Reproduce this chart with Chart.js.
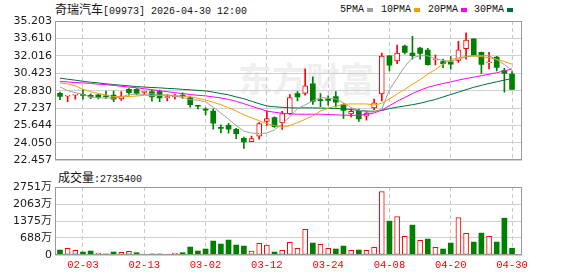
<!DOCTYPE html>
<html><head><meta charset="utf-8">
<script src="https://cdn.jsdelivr.net/npm/chart.js@4"></script>
<style>
html,body{margin:0;padding:0;background:#fff;width:578px;height:276px;overflow:hidden;}
#wrap{position:relative;width:578px;height:276px;}
canvas{position:absolute;left:0;}
.t{position:absolute;white-space:nowrap;line-height:16px;color:#111;}
.mono{font-family:"Liberation Mono","DejaVu Sans Mono",monospace;font-size:10px;}
.cjk{font-family:"Noto Sans CJK SC",sans-serif;font-size:12px;}
.sq{position:absolute;width:6px;height:4px;}
#wm{font-family:"Noto Sans CJK SC",sans-serif;font-weight:700;font-size:34px;color:#efefef;left:238px;top:58px;line-height:40px;}
</style></head>
<body><div id="wrap">
<div id="wm" class="t" style="color:#efefef">东方财富</div>
<div class="t" style="left:55px;top:1px;"><span class="cjk">奇瑞汽车</span><span class="mono">[09973] 2026-04-30 12:00</span></div>
<div class="t mono" style="left:340px;top:2px;">5PMA</div><div class="sq" style="left:367px;top:8px;background:#a0a0a0"></div>
<div class="t mono" style="left:381px;top:2px;">10PMA</div><div class="sq" style="left:414px;top:8px;background:#f5a000"></div>
<div class="t mono" style="left:428px;top:2px;">20PMA</div><div class="sq" style="left:461px;top:8px;background:#ff00ff"></div>
<div class="t mono" style="left:474px;top:2px;">30PMA</div><div class="sq" style="left:507px;top:8px;background:#006d3c"></div>
<div class="t" style="left:58px;top:169px;"><span class="cjk">成交量</span><span class="mono">:2735400</span></div>
<canvas id="k" width="578" height="170" style="top:0"></canvas>
<canvas id="v" width="578" height="106" style="top:170px"></canvas>
</div>
<script>
const dates=['01-29','01-30','02-02','02-03','02-04','02-05','02-06','02-09','02-10','02-11','02-12','02-13','02-16','02-20','02-23','02-24','02-25','02-26','02-27','03-02','03-03','03-04','03-05','03-06','03-09','03-10','03-11','03-12','03-13','03-16','03-17','03-18','03-19','03-20','03-23','03-24','03-25','03-26','03-27','03-30','03-31','04-01','04-02','04-08','04-09','04-10','04-13','04-14','04-15','04-16','04-17','04-20','04-21','04-22','04-23','04-24','04-27','04-28','04-29','04-30'];
const openP=[28.59,28.34,28.42,28.50,28.41,28.46,28.34,28.43,28.07,28.95,28.95,28.68,28.74,28.74,28.19,28.28,28.40,28.21,27.46,27.12,26.97,25.44,25.66,25.29,24.47,24.17,24.67,26.02,26.37,25.88,26.73,28.56,28.58,29.45,27.99,28.08,28.30,27.57,26.71,26.97,26.50,27.26,28.54,32.02,31.55,32.90,32.28,32.73,32.55,31.64,31.49,31.46,31.60,32.68,33.58,32.34,31.37,31.90,30.69,30.34];
const highP=[28.71,28.38,28.47,28.95,28.54,28.50,28.80,28.80,28.74,29.03,29.03,28.79,28.89,28.89,28.48,28.50,28.63,28.30,27.48,27.26,27.18,25.71,25.85,25.40,24.58,24.67,25.91,26.99,26.44,26.94,28.48,28.74,30.84,30.09,28.56,28.36,28.74,27.62,27.18,27.15,26.97,28.06,32.28,32.04,32.99,32.99,33.81,32.79,32.70,32.08,31.71,31.96,33.35,34.11,33.58,32.37,32.34,31.97,30.87,30.57];
const lowP=[28.01,27.83,28.06,28.06,28.09,28.08,28.12,27.83,27.95,28.41,28.45,28.48,27.88,27.83,27.90,28.06,28.12,27.33,27.17,26.62,25.32,24.96,24.94,24.45,23.56,24.17,24.40,25.65,25.47,25.29,26.66,27.90,28.43,27.57,27.37,27.50,27.33,26.29,26.44,26.02,26.13,27.10,27.90,30.63,31.31,32.19,31.71,31.71,31.16,31.19,30.93,30.80,31.42,31.72,32.02,30.38,30.82,30.63,28.70,28.95];
const closeP=[28.30,28.38,28.45,28.40,28.25,28.21,28.28,28.05,28.34,28.65,28.59,28.72,28.27,28.18,28.22,28.31,28.33,27.55,27.41,27.06,25.85,25.38,25.32,24.89,24.14,24.45,25.82,26.27,25.54,26.73,28.21,28.25,29.27,27.86,27.92,27.95,27.77,27.02,26.95,26.26,26.79,27.73,31.99,31.16,32.28,32.34,32.04,32.24,31.22,31.69,31.31,31.25,32.57,33.46,32.08,31.24,31.46,30.95,30.40,28.95];
const ma5=[29.18,28.83,28.65,28.50,28.26,28.18,28.17,28.15,28.26,28.48,28.52,28.50,28.55,28.43,28.45,28.32,28.21,28.01,27.97,27.81,27.33,26.79,26.22,25.64,25.13,24.96,24.89,24.96,25.25,25.78,26.44,27.19,27.53,27.92,28.21,28.15,28.08,27.72,27.28,27.06,26.88,26.88,27.15,28.92,29.98,31.04,31.84,32.02,32.02,31.75,31.60,31.51,31.71,31.93,32.04,32.04,32.02,31.66,31.22,30.69];
const ma10=[29.54,29.45,29.27,28.96,28.74,28.58,28.43,28.30,28.27,28.30,28.34,28.41,28.37,28.39,28.43,28.39,28.32,28.26,28.14,27.99,27.77,27.55,27.28,26.97,26.62,26.35,26.09,25.82,25.64,25.49,25.64,25.91,26.22,26.53,26.97,27.24,27.41,27.59,27.62,27.62,27.62,27.52,27.68,28.08,28.52,28.96,29.41,29.85,30.34,30.78,31.26,31.66,31.84,31.95,31.99,31.95,31.84,31.69,31.49,31.26];
const ma20=[29.67,29.63,29.58,29.54,29.49,29.43,29.38,29.31,29.23,29.16,29.10,29.01,28.92,28.83,28.74,28.65,28.57,28.48,28.41,28.36,28.26,28.17,28.03,27.86,27.64,27.41,27.19,26.97,26.86,26.77,26.71,26.68,26.68,26.68,26.68,26.66,26.62,26.59,26.57,26.59,26.66,26.79,27.06,27.46,27.86,28.21,28.57,28.87,29.14,29.32,29.49,29.63,29.80,29.94,30.07,30.20,30.34,30.47,30.64,30.82];
const ma30=[29.98,29.88,29.79,29.69,29.61,29.54,29.46,29.39,29.33,29.27,29.21,29.16,29.12,29.09,29.04,29.01,28.95,28.91,28.86,28.81,28.70,28.57,28.45,28.26,28.10,27.86,27.64,27.43,27.36,27.31,27.26,27.26,27.26,27.26,27.24,27.22,27.20,27.18,27.10,27.03,26.97,26.95,27.02,27.19,27.33,27.43,27.55,27.68,27.86,28.03,28.26,28.48,28.70,28.92,29.14,29.32,29.49,29.64,29.80,29.94];
const volume=[201,270,188,121,161,81,40,121,107,148,94,40,40,40,40,81,94,322,161,242,564,443,604,403,362,161,470,403,121,188,510,270,1034,483,430,270,242,362,188,201,188,309,2565,1370,1558,752,1208,591,645,309,242,483,1518,873,523,886,752,523,1490,273.54];
const volDir=['g','r','r','g','g','r','g','g','r','r','g','r','g','g','r','r','g','g','g','g','g','g','g','g','g','r','r','r','g','r','r','r','r','g','r','r','g','g','r','g','r','r','r','g','r','r','g','r','g','r','g','g','r','r','g','g','r','g','g','g'];
const priceTicks=['35.203','33.610','32.016','30.423','28.830','27.237','25.644','24.050','22.457'];
const volTicks=[0,688,1375,2063,2751];
const volTickLabels=['0','688万','1375万','2063万','2751万'];
const dateTickIdx=[3,11,19,27,35,43,51,59];

const RED='#ff0000', GREEN='#008000';
const XMIN=-0.65, XMAX=60.3;
const frame={id:'frame',afterDraw(c){const a=c.chartArea,x=c.ctx;x.save();x.strokeStyle='#999999';x.lineWidth=1;
  x.strokeRect(Math.round(a.left)+0.5,Math.round(a.top)+0.5,Math.round(a.right-a.left)-1,Math.round(a.bottom-a.top)-1);x.restore();}};

const up=[],dn=[];
for(let i=0;i<dates.length;i++){(closeP[i]>=openP[i]?up:dn).push(i);}
const pt=(arr)=>arr.map((v,i)=>({x:i,y:v}));
const lineDs=(d,c)=>({type:'line',data:pt(d),borderColor:c,borderWidth:1,pointRadius:0,tension:0,order:0});

const xGrid=()=>({color:'#c8c8c8',drawTicks:false,lineWidth:1,offset:false});
const yFont={family:'"DejaVu Sans","Noto Sans CJK SC"',size:11};

new Chart(document.getElementById('k'),{
  data:{datasets:[
    lineDs(ma5,'#a0a0a0'),lineDs(ma10,'#f5a000'),lineDs(ma20,'#ff00ff'),lineDs(ma30,'#006d3c'),
    {type:'bar',data:up.map(i=>({x:i,y:[openP[i],closeP[i]]})),backgroundColor:'#ffffff',borderColor:RED,borderWidth:1,borderSkipped:false,barThickness:5,minBarLength:1,order:1},
    {type:'bar',data:dn.map(i=>({x:i,y:[openP[i],closeP[i]]})),backgroundColor:GREEN,borderWidth:0,barThickness:5,minBarLength:1,order:1},
    {type:'bar',data:up.map(i=>({x:i,y:[lowP[i],highP[i]]})),backgroundColor:RED,barThickness:1,order:2},
    {type:'bar',data:dn.map(i=>({x:i,y:[lowP[i],highP[i]]})),backgroundColor:GREEN,barThickness:1,order:2}
  ]},
  options:{responsive:false,animation:false,
    layout:{padding:{left:0,right:56,top:21,bottom:5}},
    datasets:{bar:{grouped:false}},
    plugins:{legend:{display:false},tooltip:{enabled:false}},
    scales:{
      x:{type:'linear',offset:false,min:XMIN,max:XMAX,afterBuildTicks:s=>{s.ticks=dateTickIdx.map(v=>({value:v}));},afterFit:s=>{s.height=0;},
         ticks:{display:false},grid:xGrid(),border:{display:false,dash:[4,3]}},
      y:{type:'linear',min:parseFloat(priceTicks[priceTicks.length-1]),max:parseFloat(priceTicks[0]),
         afterBuildTicks:s=>{s.ticks=priceTicks.map(t=>({value:parseFloat(t)}));},afterFit:s=>{s.width=55;},
         ticks:{font:yFont,color:'#1a1a1a',padding:3,callback:v=>v.toFixed(3)},
         grid:{color:'#d0d0d0',drawTicks:false},border:{display:false}}
    }},
  plugins:[frame]
});

new Chart(document.getElementById('v'),{
  data:{datasets:[
    {type:'bar',data:volume.map((v,i)=>({x:i,y:v})).filter((p,i)=>volDir[i]==='r'),backgroundColor:'#ffffff',borderColor:RED,borderWidth:1,borderSkipped:false,barThickness:5,minBarLength:1},
    {type:'bar',data:volume.map((v,i)=>({x:i,y:v})).filter((p,i)=>volDir[i]==='g'),backgroundColor:GREEN,borderWidth:0,barThickness:5,minBarLength:1}
  ]},
  options:{responsive:false,animation:false,
    layout:{padding:{left:0,right:56,top:17,bottom:0}},
    datasets:{bar:{grouped:false}},
    plugins:{legend:{display:false},tooltip:{enabled:false}},
    scales:{
      x:{type:'linear',offset:false,min:XMIN,max:XMAX,afterBuildTicks:s=>{s.ticks=dateTickIdx.map(v=>({value:v}));},afterFit:s=>{s.height=21;},
         ticks:{autoSkip:false,maxRotation:0,padding:4,color:'#ff0000',font:{family:'"Liberation Mono","DejaVu Sans Mono"',size:10.5},callback:v=>dates[v]},
         grid:xGrid(),border:{display:false,dash:[4,3]}},
      y:{type:'linear',min:volTicks[0],max:volTicks[volTicks.length-1],
         afterBuildTicks:s=>{s.ticks=volTicks.map(v=>({value:v}));},afterFit:s=>{s.width=55;},
         ticks:{font:yFont,color:'#1a1a1a',padding:3,callback:v=>volTickLabels[volTicks.indexOf(v)]},
         grid:{color:'#d0d0d0',drawTicks:false},border:{display:false}}
    }},
  plugins:[frame]
});
</script>
</body></html>
